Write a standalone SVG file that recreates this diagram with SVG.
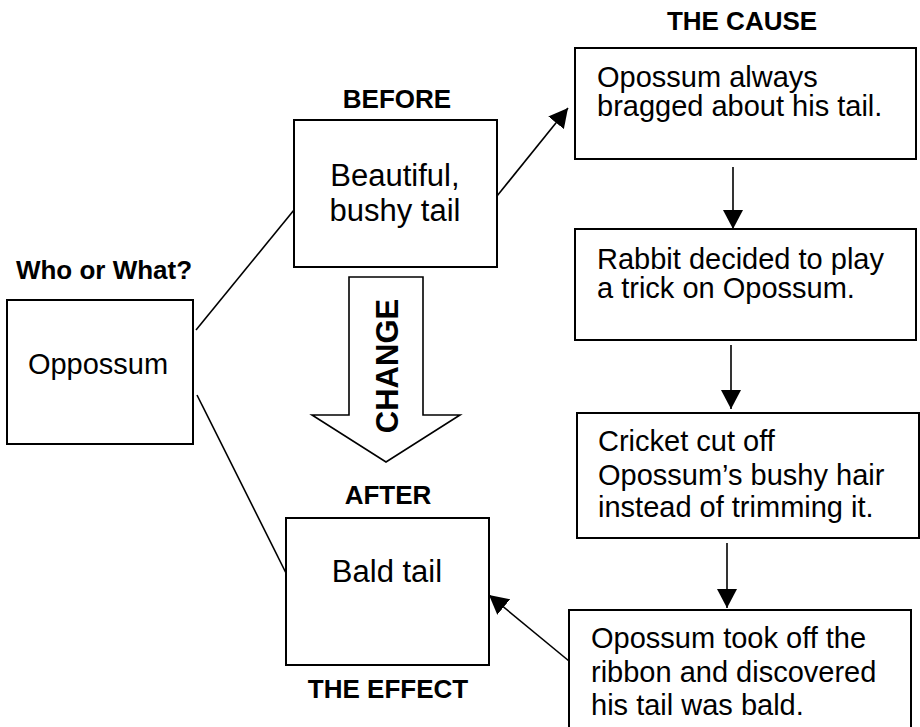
<svg xmlns="http://www.w3.org/2000/svg" width="920" height="727" viewBox="0 0 920 727">
  <style>
    .box { fill: #ffffff; stroke: #000000; stroke-width: 2; }
    .txt { font-family: "Liberation Sans", Arial, sans-serif; font-size: 29px; fill: #000000; }
    .big { font-size: 31px; }
    .mid { text-anchor: middle; }
    .head { font-family: "Liberation Sans", Arial, sans-serif; font-size: 26px; font-weight: bold; fill: #000000; text-anchor: middle; }
    .link { fill: none; stroke: #000000; stroke-width: 1.6; }
    .arrow { fill: none; stroke: #000000; stroke-width: 1.6; marker-end: url(#tip); }
  </style>
  <defs>
    <marker id="tip" markerUnits="userSpaceOnUse" markerWidth="19" markerHeight="20" refX="19" refY="10" orient="auto">
      <path d="M0,0 L19,10 L0,20 Z" fill="#000000"/>
    </marker>
  </defs>

  <rect width="920" height="727" fill="#ffffff"/>

  <!-- section headings -->
  <text class="head" x="104" y="279">Who or What?</text>
  <text class="head" x="397" y="108">BEFORE</text>
  <text class="head" x="742" y="30">THE CAUSE</text>
  <text class="head" x="388" y="504">AFTER</text>
  <text class="head" x="388" y="698">THE EFFECT</text>

  <!-- connectors -->
  <g id="connectors">
    <line class="link" x1="196" y1="330" x2="294" y2="210"/>
    <line class="link" x1="197" y1="395" x2="286" y2="573"/>
    <line class="arrow" x1="497" y1="196" x2="568" y2="108"/>
    <line class="arrow" x1="733" y1="167" x2="733" y2="229"/>
    <line class="arrow" x1="731" y1="345" x2="731" y2="409"/>
    <line class="arrow" x1="727" y1="543" x2="727" y2="608"/>
    <line class="arrow" x1="569" y1="661" x2="489" y2="595"/>
  </g>

  <!-- block arrow labelled CHANGE -->
  <g id="change">
    <path d="M349,277 L423,277 L423,415 L460,415 L386,462 L312,415 L349,415 Z" fill="#ffffff" stroke="#000000" stroke-width="1.6" stroke-linejoin="miter"/>
    <text x="0" y="0" transform="translate(398,366) rotate(-90)" font-family="'Liberation Sans', Arial, sans-serif" font-size="31" font-weight="bold" text-anchor="middle">CHANGE</text>
  </g>

  <g id="who">
    <rect class="box" x="7" y="300" width="186" height="144"/>
    <text class="txt mid" x="98" y="374">Oppossum</text>
  </g>

  <g id="before">
    <rect class="box" x="294" y="120" width="203" height="147"/>
    <text class="txt big mid" x="395" y="186">Beautiful,</text>
    <text class="txt big mid" x="395" y="221">bushy tail</text>
  </g>

  <g id="after">
    <rect class="box" x="286" y="518" width="203" height="147"/>
    <text class="txt big mid" x="387" y="582">Bald tail</text>
  </g>

  <g id="cause1">
    <rect class="box" x="575" y="48" width="341" height="111"/>
    <text class="txt" x="597" y="87">Opossum always</text>
    <text class="txt" x="597" y="116">bragged about his tail.</text>
  </g>

  <g id="cause2">
    <rect class="box" x="575" y="229" width="341" height="111"/>
    <text class="txt" x="597" y="269">Rabbit decided to play</text>
    <text class="txt" x="597" y="298">a trick on Opossum.</text>
  </g>

  <g id="cause3">
    <rect class="box" x="577" y="413" width="342" height="125"/>
    <text class="txt" x="598" y="451">Cricket cut off</text>
    <text class="txt" x="598" y="485">Opossum’s bushy hair</text>
    <text class="txt" x="598" y="517">instead of trimming it.</text>
  </g>

  <g id="cause4">
    <rect class="box" x="569" y="610" width="342" height="130"/>
    <text class="txt" x="591" y="648">Opossum took off the</text>
    <text class="txt" x="591" y="682">ribbon and discovered</text>
    <text class="txt" x="591" y="715">his tail was bald.</text>
  </g>
</svg>
